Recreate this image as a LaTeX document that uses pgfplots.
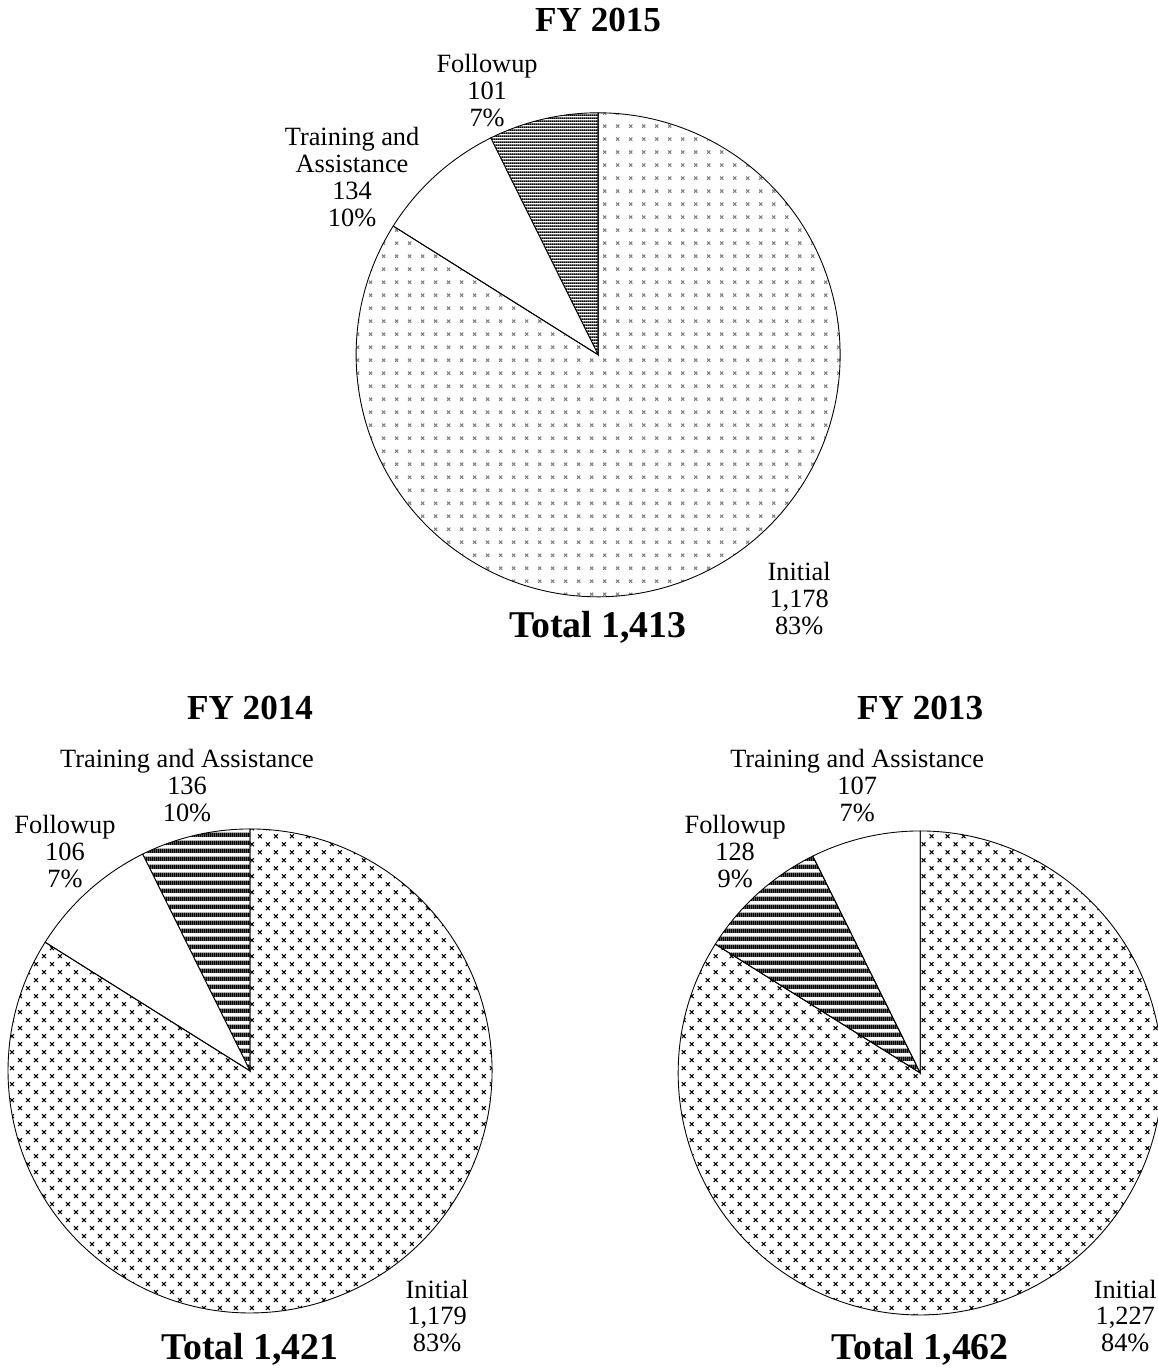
\documentclass[border=0pt]{standalone}
\usepackage{fontspec}
\setmainfont{Liberation Serif}
\usepackage{pgfplots}
\pgfplotsset{compat=1.18}
\usetikzlibrary{patterns}

% 1 px of the reference = 0.02cm = 0.569pt
\pgfdeclarepatternformonly{xgrid}{\pgfqpoint{-1pt}{-1pt}}{\pgfqpoint{8.4pt}{8.4pt}}{\pgfqpoint{7.4pt}{7.4pt}}{%
  \pgfsetlinewidth{0.6pt}
  \pgfpathmoveto{\pgfqpoint{2.8pt}{2.8pt}}\pgfpathlineto{\pgfqpoint{4.6pt}{4.6pt}}
  \pgfpathmoveto{\pgfqpoint{2.8pt}{4.6pt}}\pgfpathlineto{\pgfqpoint{4.6pt}{2.8pt}}
  \pgfusepath{stroke}}
\pgfdeclarepatternformonly{xstag}{\pgfqpoint{-1pt}{-1pt}}{\pgfqpoint{10.1pt}{10.1pt}}{\pgfqpoint{9.1pt}{9.1pt}}{%
  \pgfsetlinewidth{0.6pt}
  \pgfpathmoveto{\pgfqpoint{1.2pt}{1.2pt}}\pgfpathlineto{\pgfqpoint{3.4pt}{3.4pt}}
  \pgfpathmoveto{\pgfqpoint{1.2pt}{3.4pt}}\pgfpathlineto{\pgfqpoint{3.4pt}{1.2pt}}
  \pgfpathmoveto{\pgfqpoint{5.75pt}{5.75pt}}\pgfpathlineto{\pgfqpoint{7.95pt}{7.95pt}}
  \pgfpathmoveto{\pgfqpoint{5.75pt}{7.95pt}}\pgfpathlineto{\pgfqpoint{7.95pt}{5.75pt}}
  \pgfusepath{stroke}}
\pgfdeclarepatternformonly{hfine}{\pgfqpoint{0pt}{0pt}}{\pgfqpoint{1pt}{1.7pt}}{\pgfqpoint{1pt}{1.7pt}}{%
  \pgfpathrectangle{\pgfqpoint{0pt}{0pt}}{\pgfqpoint{1pt}{0.9pt}}
  \pgfusepath{fill}}
\pgfdeclarepatternformonly{hthick}{\pgfqpoint{0pt}{0pt}}{\pgfqpoint{1pt}{4.6pt}}{\pgfqpoint{1pt}{4.6pt}}{%
  \pgfpathrectangle{\pgfqpoint{0pt}{0pt}}{\pgfqpoint{1pt}{2.8pt}}
  \pgfusepath{fill}}

\tikzset{
  lbl/.style={align=center, font=\fontsize{15}{15.3}\selectfont, inner sep=0pt},
  ttl/.style={font=\fontsize{20}{24}\selectfont\bfseries, inner sep=0pt},
  tot/.style={font=\fontsize{21.5}{26}\selectfont\bfseries, inner sep=0pt},
}

\newcommand{\R}{4.84cm}
% #1,#2 centre (px), #3 first slice ccw from top, #4 second, #5 initial,
% #6 style of first slice, #7 style of second, #8 style of initial
\newcommand{\pie}[8]{%
  \pgfmathsetmacro{\tot}{#3+#4+#5}%
  \pgfmathsetmacro{\aA}{90+360*(#3/\tot)}%
  \pgfmathsetmacro{\aB}{\aA+360*(#4/\tot)}%
  \filldraw[#6, draw=black, line width=0.5pt] (axis cs:#1,#2) -- ++(90:\R) arc[start angle=90, end angle=\aA, radius=\R] -- cycle;
  \filldraw[#7, draw=black, line width=0.5pt] (axis cs:#1,#2) -- ++(\aA:\R) arc[start angle=\aA, end angle=\aB, radius=\R] -- cycle;
  \filldraw[#8, draw=black, line width=0.5pt] (axis cs:#1,#2) -- ++(\aB:\R) arc[start angle=\aB, end angle=450, radius=\R] -- cycle;
}

\begin{document}
\begin{tikzpicture}
\begin{axis}[
    hide axis,
    x=0.02cm, y=0.02cm,
    xmin=0, xmax=1158,
    ymin=0, ymax=1368,
    y dir=reverse,
    clip=false,
]
% FY 2015: Followup 101, Training and Assistance 134, Initial 1178
\pie{598}{355}{101}{134}{1178}{pattern=hfine}{fill=white}{pattern=xgrid, pattern color=gray}
% FY 2014: Followup 106, Training and Assistance 136, Initial 1179
\pie{250}{1071}{106}{136}{1179}{pattern=hthick}{fill=white}{pattern=xstag}
% FY 2013: Training and Assistance 107, Followup 128, Initial 1227
\pie{920}{1073}{107}{128}{1227}{fill=white}{pattern=hthick}{pattern=xstag}

% titles
\node[ttl] at (axis cs:598,20) {FY 2015};
\node[ttl] at (axis cs:250,708) {FY 2014};
\node[ttl] at (axis cs:920,708) {FY 2013};

% totals
\node[tot] at (axis cs:598,627) {Total 1,413};
\node[tot] at (axis cs:250,1349) {Total 1,421};
\node[tot] at (axis cs:920,1349) {Total 1,462};

% slice labels
\node[lbl] at (axis cs:487,91) {Followup\\101\\7\%};
\node[lbl] at (axis cs:352,177) {Training and\\Assistance\\134\\10\%};
\node[lbl] at (axis cs:799,599) {Initial\\1,178\\83\%};

\node[lbl] at (axis cs:187,786) {Training and Assistance\\136\\10\%};
\node[lbl] at (axis cs:65,852) {Followup\\106\\7\%};
\node[lbl] at (axis cs:437,1316) {Initial\\1,179\\83\%};

\node[lbl] at (axis cs:857,786) {Training and Assistance\\107\\7\%};
\node[lbl] at (axis cs:735,852) {Followup\\128\\9\%};
\node[lbl] at (axis cs:1125,1316) {Initial\\1,227\\84\%};
\end{axis}
\pgfresetboundingbox
\path (0,0) rectangle (23.16cm,27.36cm);
\end{tikzpicture}
\end{document}
